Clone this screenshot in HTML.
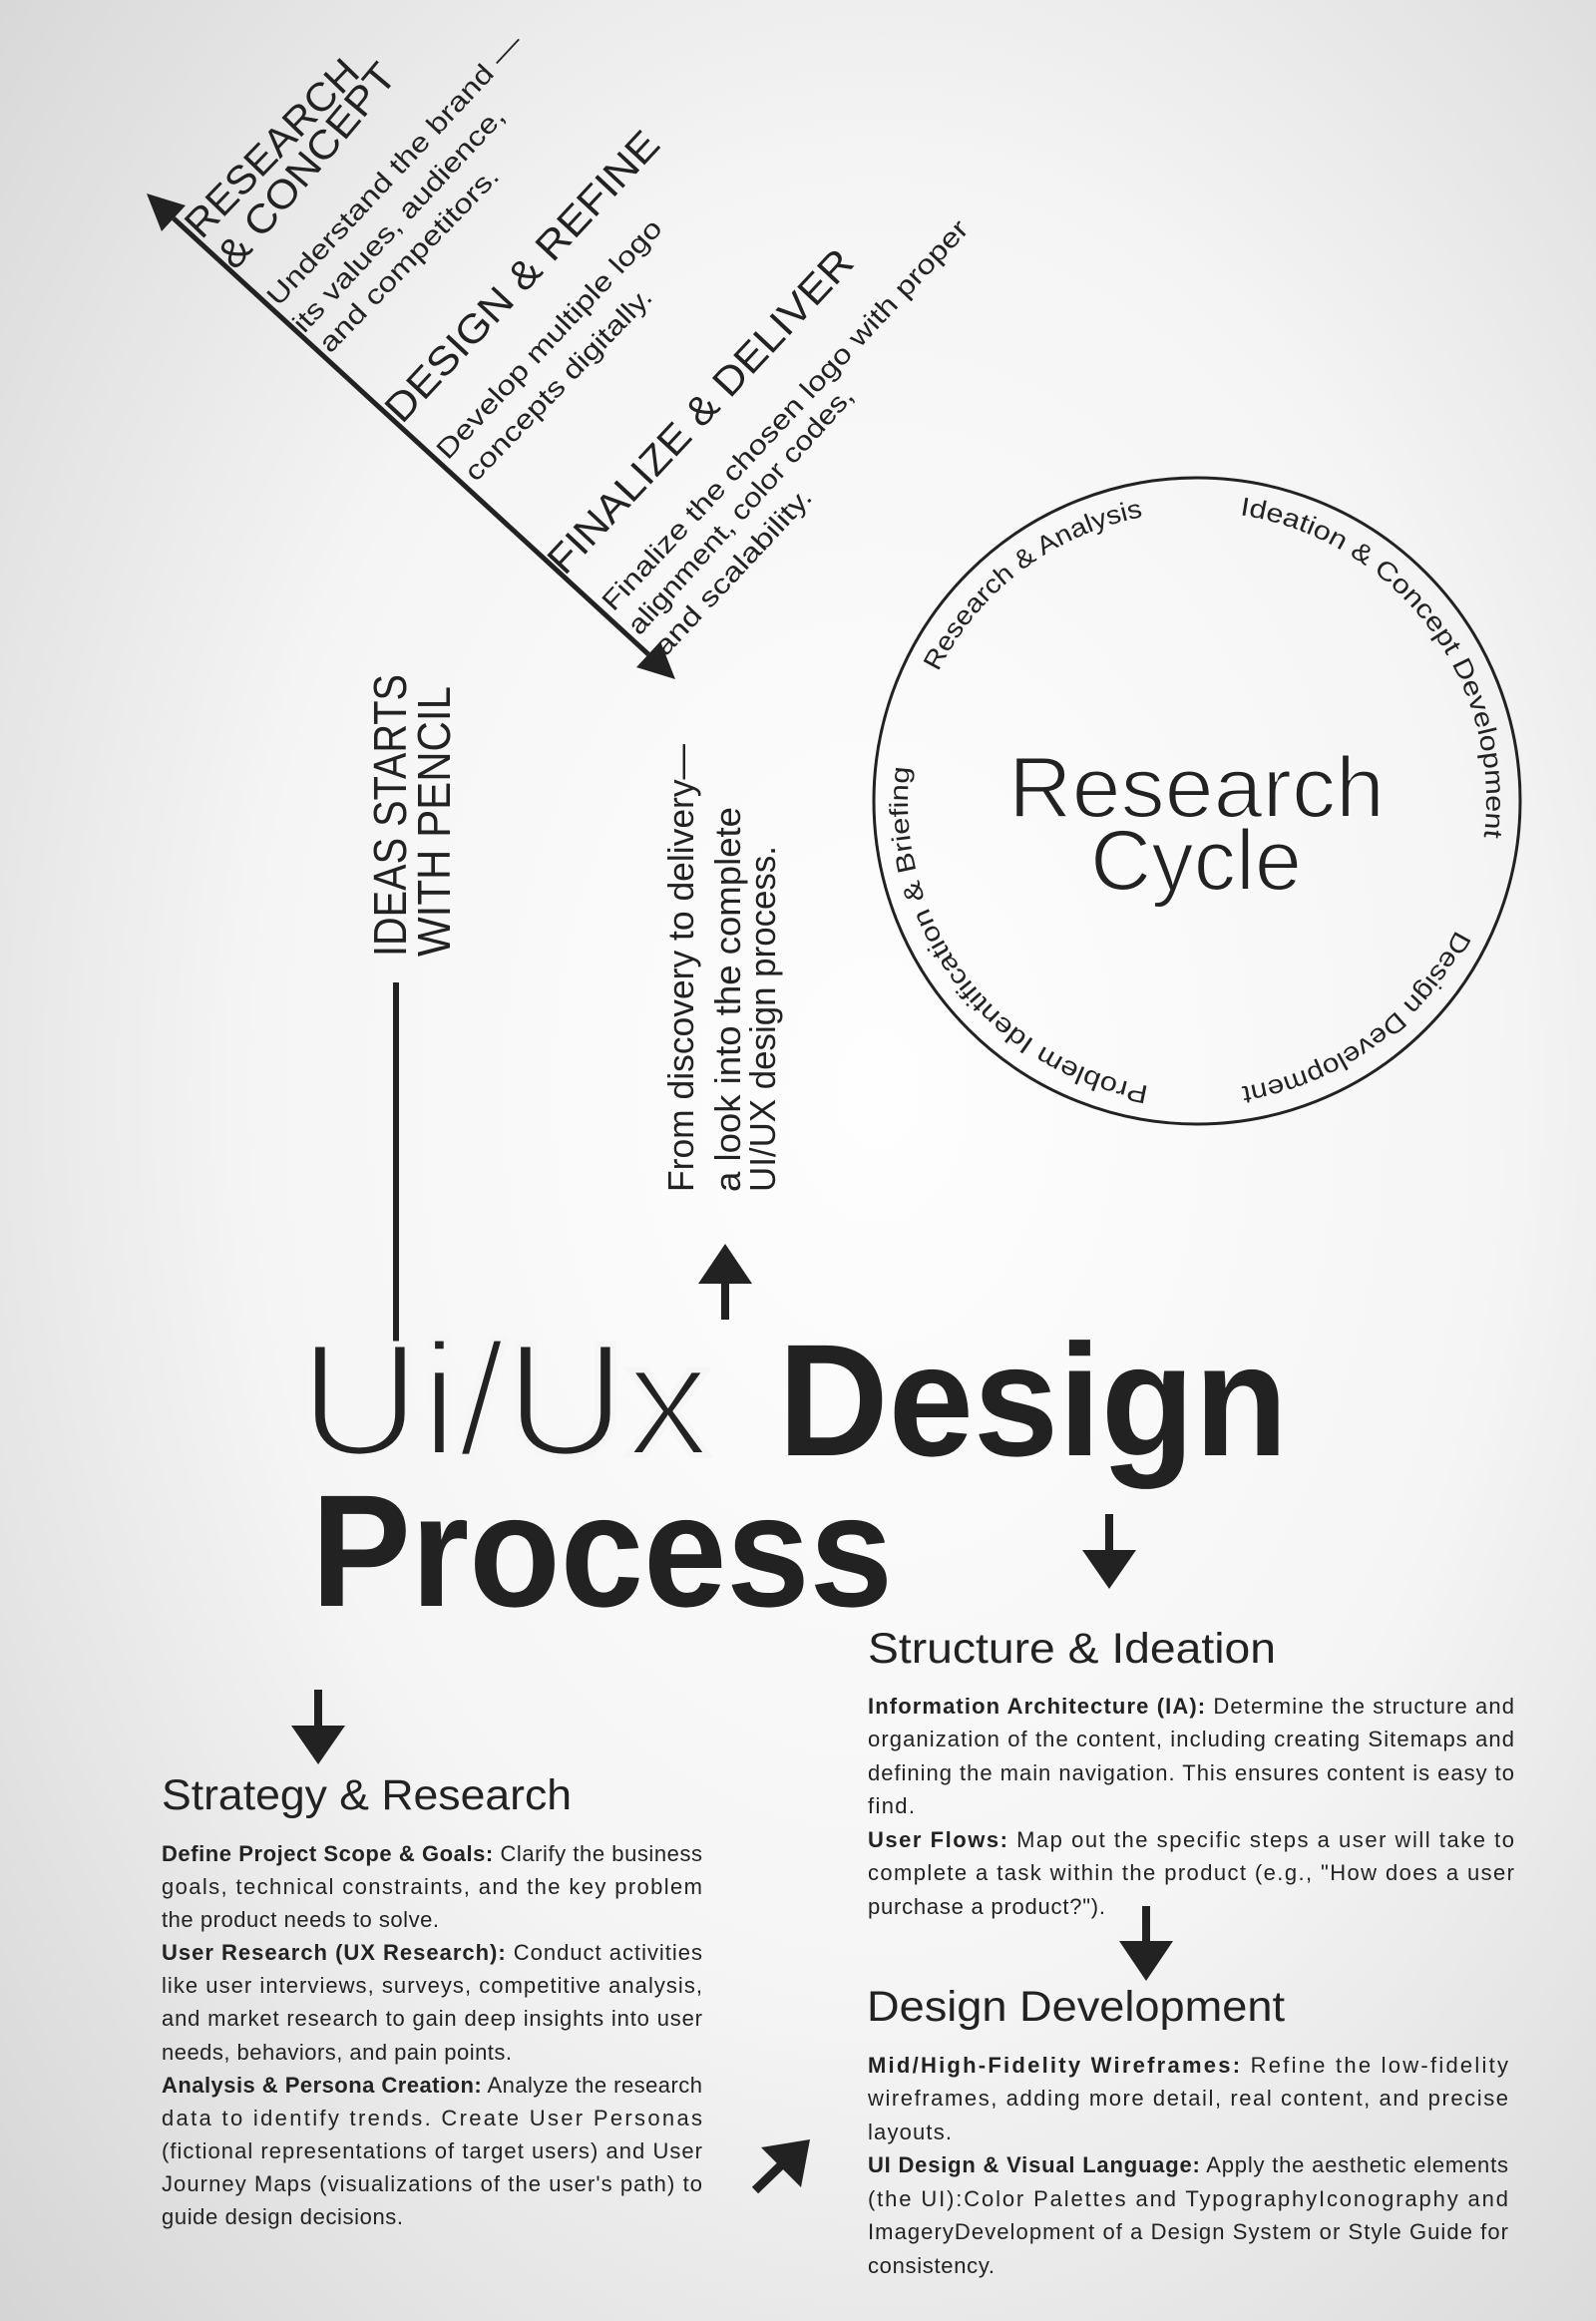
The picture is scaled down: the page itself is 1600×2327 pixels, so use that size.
<!DOCTYPE html>
<html><head><meta charset="utf-8"><style>
html,body{margin:0;padding:0;width:1600px;height:2327px;overflow:hidden}
svg{display:block}
text{font-family:"Liberation Sans",sans-serif;fill:#222}
.b{font-weight:bold}
</style></head><body>
<svg width="1600" height="2327" viewBox="0 0 1600 2327" xmlns="http://www.w3.org/2000/svg">
<defs>
<radialGradient id="bg" cx="0.55" cy="0.47" r="0.78">
<stop offset="0" stop-color="#fefefe"/>
<stop offset="0.5" stop-color="#f5f5f5"/>
<stop offset="1" stop-color="#d3d3d3"/>
</radialGradient>
<path id="cp" d="M1200,513 A290,290 0 1 1 1200,1093 A290,290 0 1 1 1200,513"/>
</defs>
<rect width="1600" height="2327" fill="url(#bg)"/>

<line x1="174" y1="219" x2="650" y2="656" stroke="#222" stroke-width="5"/>
<polygon points="147,194 162,232 186,206" fill="#222"/>
<polygon points="677,681 638,669 662,643" fill="#222"/>

<g transform="translate(10,9)">
<g font-size="40">
<text transform="translate(192,232) rotate(-46)" textLength="231" lengthAdjust="spacingAndGlyphs">RESEARCH</text>
<text transform="translate(226,263) rotate(-50)" textLength="254" lengthAdjust="spacingAndGlyphs">&amp; CONCEPT</text>
<text transform="translate(393,417) rotate(-47)" textLength="382" lengthAdjust="spacingAndGlyphs">DESIGN &amp; REFINE</text>
<text transform="translate(556,569) rotate(-47)" textLength="428" lengthAdjust="spacingAndGlyphs">FINALIZE &amp; DELIVER</text>
</g>
<g font-size="27">
<text transform="translate(269,299) rotate(-47)" textLength="361" lengthAdjust="spacingAndGlyphs">Understand the brand —</text>
<text transform="translate(295,326) rotate(-47)" textLength="297" lengthAdjust="spacingAndGlyphs">its values, audience,</text>
<text transform="translate(321,346) rotate(-46)" textLength="246" lengthAdjust="spacingAndGlyphs">and competitors.</text>
<text transform="translate(439,453) rotate(-47)" textLength="317" lengthAdjust="spacingAndGlyphs">Develop multiple logo</text>
<text transform="translate(467,475) rotate(-46)" textLength="257" lengthAdjust="spacingAndGlyphs">concepts digitally.</text>
<text transform="translate(605,605) rotate(-47)" textLength="524" lengthAdjust="spacingAndGlyphs">Finalize the chosen logo with proper</text>
<text transform="translate(631,629) rotate(-48)" textLength="323" lengthAdjust="spacingAndGlyphs">alignment, color codes,</text>
<text transform="translate(657,650) rotate(-47)" textLength="218" lengthAdjust="spacingAndGlyphs">and scalability.</text>
</g>
</g>

<circle cx="1200" cy="803" r="324" fill="none" stroke="#222" stroke-width="3"/>
<g font-size="26">
<text><textPath href="#cp" startOffset="43" textLength="449" lengthAdjust="spacingAndGlyphs">Ideation &amp; Concept Development</textPath></text>
<text><textPath href="#cp" startOffset="589" textLength="277" lengthAdjust="spacingAndGlyphs">Design Development</textPath></text>
<text><textPath href="#cp" startOffset="959" textLength="441" lengthAdjust="spacingAndGlyphs">Problem Identification &amp; Briefing</textPath></text>
<text><textPath href="#cp" startOffset="1500" textLength="267" lengthAdjust="spacingAndGlyphs">Research &amp; Analysis</textPath></text>
</g>
<text x="1011" y="819" font-size="86" textLength="377" lengthAdjust="spacingAndGlyphs" stroke="#fafafa" stroke-width="2">Research</text>
<text x="1093" y="892" font-size="86" textLength="212" lengthAdjust="spacingAndGlyphs" stroke="#fafafa" stroke-width="2">Cycle</text>

<g font-size="46">
<text transform="translate(407,959) rotate(-90)" textLength="283" lengthAdjust="spacingAndGlyphs">IDEAS STARTS</text>
<text transform="translate(451,959) rotate(-90)" textLength="271" lengthAdjust="spacingAndGlyphs">WITH PENCIL</text>
</g>
<line x1="397" y1="985" x2="397" y2="1420" stroke="#222" stroke-width="6"/>
<g font-size="36">
<text transform="translate(695,1195) rotate(-90)" textLength="449" lengthAdjust="spacingAndGlyphs">From discovery to delivery—</text>
<text transform="translate(742,1195) rotate(-90)" textLength="386" lengthAdjust="spacingAndGlyphs">a look into the complete</text>
<text transform="translate(777,1195) rotate(-90)" textLength="347" lengthAdjust="spacingAndGlyphs">UI/UX design process.</text>
</g>

<rect x="723" y="1285" width="8" height="38" fill="#222"/>
<polygon points="727,1247 700,1287 754,1287" fill="#222"/>

<text x="300" y="1459" font-size="162" textLength="412" lengthAdjust="spacingAndGlyphs" stroke="#f6f6f6" stroke-width="6">Ui/Ux</text>
<text x="780" y="1459" font-size="160" class="b" textLength="511" lengthAdjust="spacingAndGlyphs">Design</text>
<text x="312" y="1610" font-size="160" class="b" textLength="583" lengthAdjust="spacingAndGlyphs">Process</text>

<rect x="1108" y="1518" width="8" height="38" fill="#222"/>
<polygon points="1085,1554 1139,1554 1112,1593" fill="#222"/>
<rect x="315" y="1694" width="8" height="38" fill="#222"/>
<polygon points="292,1730 346,1730 319,1769" fill="#222"/>
<rect x="1145" y="1911" width="8" height="37" fill="#222"/>
<polygon points="1122,1946 1176,1946 1149,1986" fill="#222"/>
<line x1="757" y1="2196" x2="786" y2="2168" stroke="#222" stroke-width="9"/>
<polygon points="812,2145 763,2153 803,2193" fill="#222"/>

<g font-size="43">
<text x="162" y="1814" textLength="411" lengthAdjust="spacingAndGlyphs">Strategy &amp; Research</text>
<text x="870" y="1667" textLength="409" lengthAdjust="spacingAndGlyphs">Structure &amp; Ideation</text>
<text x="869" y="2026" textLength="419" lengthAdjust="spacingAndGlyphs">Design Development</text>
</g>

<g font-size="22">
<text x="162" y="1866" textLength="542"><tspan class="b">Define Project Scope &amp; Goals:</tspan> Clarify the business</text>
<text x="162" y="1899" textLength="542">goals, technical constraints, and the key problem</text>
<text x="162" y="1932" textLength="278">the product needs to solve.</text>
<text x="162" y="1965" textLength="542"><tspan class="b">User Research (UX Research):</tspan> Conduct activities</text>
<text x="162" y="1998" textLength="542">like user interviews, surveys, competitive analysis,</text>
<text x="162" y="2031" textLength="542">and market research to gain deep insights into user</text>
<text x="162" y="2065" textLength="351">needs, behaviors, and pain points.</text>
<text x="162" y="2098" textLength="542"><tspan class="b">Analysis &amp; Persona Creation:</tspan> Analyze the research</text>
<text x="162" y="2131" textLength="542">data to identify trends. Create User Personas</text>
<text x="162" y="2164" textLength="542">(fictional representations of target users) and User</text>
<text x="162" y="2197" textLength="542">Journey Maps (visualizations of the user's path) to</text>
<text x="162" y="2230" textLength="242">guide design decisions.</text>
</g>

<g font-size="22">
<text x="870" y="1718" textLength="648"><tspan class="b">Information Architecture (IA):</tspan> Determine the structure and</text>
<text x="870" y="1751" textLength="648">organization of the content, including creating Sitemaps and</text>
<text x="870" y="1785" textLength="648">defining the main navigation. This ensures content is easy to</text>
<text x="870" y="1818" textLength="47">find.</text>
<text x="870" y="1852" textLength="648"><tspan class="b">User Flows:</tspan> Map out the specific steps a user will take to</text>
<text x="870" y="1885" textLength="648">complete a task within the product (e.g., "How does a user</text>
<text x="870" y="1919" textLength="238">purchase a product?").</text>
</g>

<g font-size="22">
<text x="870" y="2078" textLength="642"><tspan class="b">Mid/High-Fidelity Wireframes:</tspan> Refine the low-fidelity</text>
<text x="870" y="2111" textLength="642">wireframes, adding more detail, real content, and precise</text>
<text x="870" y="2145" textLength="84">layouts.</text>
<text x="870" y="2178" textLength="642"><tspan class="b">UI Design &amp; Visual Language:</tspan> Apply the aesthetic elements</text>
<text x="870" y="2212" textLength="642">(the UI):Color Palettes and TypographyIconography and</text>
<text x="870" y="2245" textLength="642">ImageryDevelopment of a Design System or Style Guide for</text>
<text x="870" y="2279" textLength="127">consistency.</text>
</g>
</svg>
</body></html>
